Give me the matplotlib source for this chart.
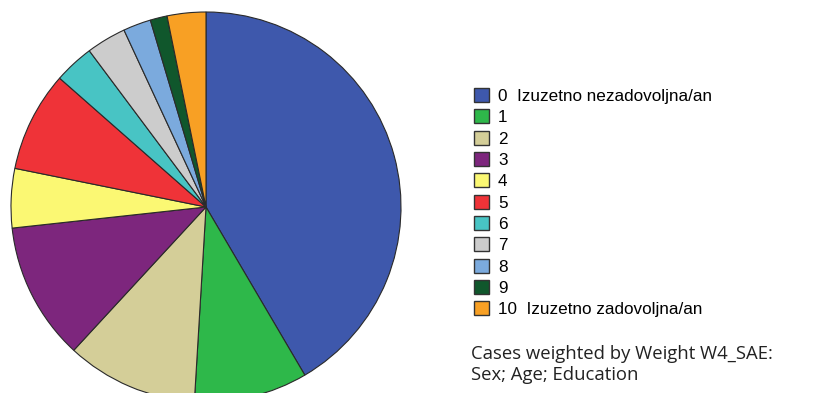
import matplotlib
matplotlib.use("Agg")
import matplotlib.pyplot as plt

categories = ["0  Izuzetno nezadovoljna/an", "1", "2", "3", "4", "5", "6", "7", "8", "9",
              "10  Izuzetno zadovoljna/an"]
values = [41.5, 9.4, 10.9, 11.4, 4.9, 8.3, 3.3, 3.3, 2.3, 1.4, 3.2]
colors = ["#3e58ac", "#2eb84a", "#d4ce98", "#7d267d", "#fbf873", "#ef3338",
          "#48c4c4", "#cccccc", "#7baadd", "#10572c", "#f8a024"]
footnote = "Cases weighted by Weight W4_SAE:\nSex; Age; Education"

W, H = 816, 393
fig = plt.figure(figsize=(W / 100, H / 100), dpi=100)
ax = fig.add_axes([0, 0, 1, 1])
wedges, _ = ax.pie(values, colors=colors, startangle=90, counterclock=False,
                   center=(206, H - 207), radius=195,
                   wedgeprops=dict(edgecolor="#2a2a2a", linewidth=0.8))
ax.set_xlim(0, W)
ax.set_ylim(0, H)
ax.set_aspect("equal")
ax.axis("off")

leg = ax.legend(wedges, categories, loc="upper left",
                bbox_to_anchor=(474 / W, 1 - 88 / H), bbox_transform=fig.transFigure,
                frameon=False, prop={"family": "Liberation Sans", "size": 12.3},
                handlelength=0.88, handleheight=0.88, handletextpad=0.53,
                labelspacing=0.32, borderpad=0, borderaxespad=0)
for h in leg.legend_handles:
    h.set_edgecolor("#333333")
    h.set_linewidth(1.0)

fig.text(471 / W, 1 - 345 / H, footnote, ha="left", va="top",
         family="Open Sans", fontsize=13.3, color="#222222", linespacing=1.22)

fig.savefig("out.png", dpi=100, facecolor="white")
